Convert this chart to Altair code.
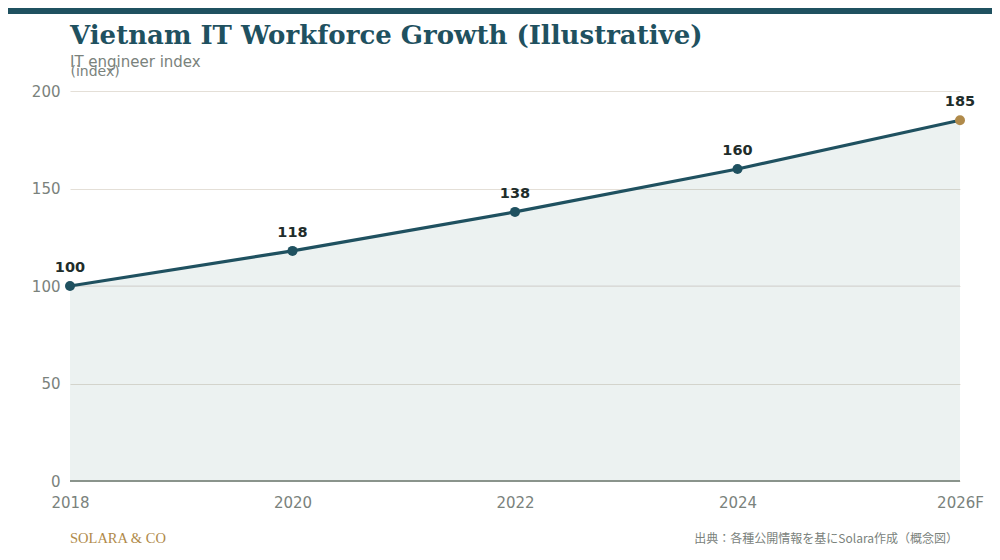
import altair as alt
import pandas as pd

years = ["2018", "2020", "2022", "2024", "2026F"]
values = [100, 118, 138, 160, 185]
highlight = [False, False, False, False, True]

title_text = "Vietnam IT Workforce Growth (Illustrative)"
subtitle_text = "IT engineer index"
brand_text = "SOLARA & CO"
source_text = "出典：各種公開情報を基にSolara作成（概念図）"

TEAL = "#1f5160"
GOLD = "#b08a4a"
GRAY = "#7a827c"

df = pd.DataFrame({"year": years, "value": values, "hl": highlight})

W, H = 890, 390

xenc = alt.X("year:O", sort=years, scale=alt.Scale(type="point", padding=0),
             axis=alt.Axis(title=None, labelAngle=0, ticks=False, labelPadding=14,
                           labelFontSize=15, labelColor=GRAY, labelFont="DejaVu Sans",
                           domain=False, grid=False))
yenc = alt.Y("value:Q", scale=alt.Scale(domain=[0, 200]),
             axis=alt.Axis(title="(index)", titleAngle=0, titleX=0, titleY=-16,
                           titleAlign="left", titleBaseline="alphabetic",
                           titleFontSize=14, titleFontWeight="normal", titleColor=GRAY,
                           titleFont="DejaVu Sans",
                           values=[0, 50, 100, 150, 200], ticks=False, labelPadding=10,
                           labelFontSize=15, labelColor=GRAY, labelFont="DejaVu Sans",
                           domain=False, grid=True, gridColor="#e4dfd7", gridWidth=1))

base = alt.Chart(df)

area = base.mark_area(color="#125d50", opacity=0.08).encode(x=xenc, y=yenc)

ref_df = pd.DataFrame({"v": [100]})
ref = alt.Chart(ref_df).mark_rule(color="#dcdedd", strokeWidth=1.5).encode(y=alt.Y("v:Q"))

base_df = pd.DataFrame({"v": [0]})
domain_rule = alt.Chart(base_df).mark_rule(color="#8a948c", strokeWidth=2).encode(y=alt.Y("v:Q"))

line = base.mark_line(color=TEAL, strokeWidth=3.2).encode(x=xenc, y=yenc)

points = base.mark_circle(size=100, opacity=1).encode(
    x=xenc, y=yenc,
    color=alt.condition(alt.datum.hl, alt.value(GOLD), alt.value(TEAL)),
)

labels = base.mark_text(fontSize=14.5, fontWeight="bold", font="DejaVu Sans",
                        color="#1f2d2b", dy=-14, baseline="alphabetic").encode(
    x=xenc, y=yenc, text=alt.Text("value:Q"))

def txt(s, **kw):
    return alt.Chart(pd.DataFrame({"t": [s]})).mark_text(**kw).encode(text="t:N")

bar_df = pd.DataFrame({"a": [0]})
topbar = alt.Chart(bar_df).mark_rect(color=TEAL).encode(
    x=alt.value(-62), x2=alt.value(W + 32), y=alt.value(-83), y2=alt.value(-77))

title = txt(title_text, font="DejaVu Serif", fontSize=26, fontWeight="bold", color=TEAL,
            align="left", baseline="alphabetic").encode(x=alt.value(0), y=alt.value(-47))
subtitle = txt(subtitle_text, font="DejaVu Sans", fontSize=15, color=GRAY,
               align="left", baseline="alphabetic").encode(x=alt.value(0), y=alt.value(-24))
brand = txt(brand_text, font="Liberation Serif", fontSize=14.5, color=GOLD,
            align="left", baseline="alphabetic").encode(x=alt.value(0), y=alt.value(452))
source = txt(source_text, font="Noto Sans CJK JP", fontSize=12, color=GRAY,
             align="right", baseline="alphabetic").encode(x=alt.value(888), y=alt.value(452))

chart = alt.layer(area, ref, domain_rule, line, points, labels, topbar, title, subtitle, brand, source).properties(
    width=W, height=H,
    autosize=alt.AutoSizeParams(type="none"),
    padding={"left": 62, "top": 83, "right": 32, "bottom": 68},
    background="white",
).configure_view(stroke=None)

chart.save("out.html", embed_options={"renderer": "svg", "actions": False})
